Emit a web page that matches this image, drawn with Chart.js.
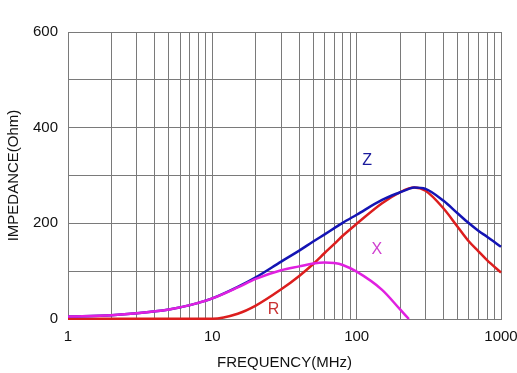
<!DOCTYPE html>
<html>
<head>
<meta charset="utf-8">
<script src="https://cdn.jsdelivr.net/npm/chart.js@4/dist/chart.umd.min.js"></script>
<style>
  html, body { margin: 0; padding: 0; background: #fff; }
  canvas { display: block; }
</style>
</head>
<body>
<canvas id="chart" width="517" height="373"></canvas>
<script>
Chart.defaults.font.family = "'Liberation Sans', Arial, sans-serif";
Chart.defaults.font.size = 15;
Chart.defaults.color = '#111';

// Frequência (MHz) e curvas
const freqs = [1, 2, 3, 5, 7, 10, 15, 20, 30, 40, 50, 60, 70, 80, 100, 150, 200, 230, 250, 300, 400, 500, 600, 700, 800, 1000];
const zVals = [5, 8, 12, 20, 29, 43, 67, 87, 120, 143, 162, 177, 190, 201, 218, 249, 265, 272, 275, 272, 247, 221, 200, 184, 172, 151];
const rVals = [0.5, 0.5, 0.5, 0.5, 0.5, 0.5, 11, 28, 62, 90, 115, 138, 157, 174, 199, 242, 265, 273, 275, 268, 231, 193, 162, 141, 123, 97];
const xVals = [5, 8, 12, 20, 29, 43, 66, 84, 102, 110, 116, 118, 117, 113, 99, 61, 20, 0, null, null, null, null, null, null, null, null];

// Grade e rótulos
const gridFreqs = [1,2,3,4,5,6,7,8,9,10,20,30,40,50,60,70,80,90,100,200,300,400,500,600,700,800,900,1000];
const majorFreqs = [1, 10, 100, 1000];
const yLabels = [0, 200, 400, 600];

// Rótulos das curvas: [texto, freq, valor, cor]
const curveLabels = [
    ['Z', 118, 332, '#1a1a9c'],
    ['X', 138, 146, '#d040d0'],
    ['R', 26.5, 19, '#c83232']
];

const toPoints = (vals) => freqs.map((f, i) => ({ x: f, y: vals[i] })).filter(p => p.y !== null);

const gridColor = '#7a7a7a';

const labelPlugin = {
    id: 'curveLabels',
    afterDatasetsDraw(chart) {
        const { ctx, scales } = chart;
        ctx.save();
        ctx.font = "16px 'Liberation Sans', Arial, sans-serif";
        ctx.textAlign = 'center';
        ctx.textBaseline = 'middle';
        curveLabels.forEach(([t, f, v, c]) => {
            ctx.fillStyle = c;
            ctx.fillText(t, scales.x.getPixelForValue(f), scales.y.getPixelForValue(v));
        });
        ctx.restore();
    }
};

const lineDs = (label, vals, color) => ({
    label,
    data: toPoints(vals),
    borderColor: color,
    borderWidth: 2.5,
    pointRadius: 0,
    fill: false,
    cubicInterpolationMode: 'monotone',
    clip: 4
});

new Chart(document.getElementById('chart'), {
    type: 'line',
    data: {
        datasets: [
            lineDs('X', xVals, '#e020e0'),
            lineDs('Z', zVals, '#1414b4'),
            lineDs('R', rVals, '#dc1e1e')
        ]
    },
    options: {
        responsive: false,
        animation: false,
        layout: { padding: { top: 32, right: 16, left: 0, bottom: 0 } },
        plugins: { legend: { display: false }, tooltip: { enabled: false } },
        scales: {
            x: {
                type: 'logarithmic',
                min: 1,
                max: 1000,
                afterBuildTicks: (scale) => { scale.ticks = gridFreqs.map(v => ({ value: v })); },
                afterFit: (scale) => {
                    scale.height = 54;
                    scale.paddingLeft = 0;
                    scale.paddingRight = 0;
                },
                grid: { color: gridColor, lineWidth: 1, drawTicks: false },
                border: { color: gridColor, width: 1 },
                ticks: {
                    autoSkip: false,
                    maxRotation: 0,
                    padding: 9,
                    color: '#111',
                    callback: (v) => majorFreqs.includes(v) ? String(v) : ''
                },
                title: { display: true, text: 'FREQUENCY(MHz)', color: '#111', padding: { top: 0, bottom: 1 } }
            },
            y: {
                min: 0,
                max: 600,
                afterFit: (scale) => {
                    scale.width = 68;
                    scale.paddingTop = 0;
                    scale.paddingBottom = 0;
                },
                grid: { color: gridColor, lineWidth: 1, drawTicks: false },
                border: { color: gridColor, width: 1 },
                ticks: {
                    stepSize: 100,
                    padding: 10,
                    color: '#111',
                    callback: (v) => yLabels.includes(v) ? String(v) : ''
                },
                title: { display: true, text: 'IMPEDANCE(Ohm)', color: '#111', padding: { top: 5, bottom: 0 } }
            }
        }
    },
    plugins: [labelPlugin]
});
</script>
</body>
</html>
